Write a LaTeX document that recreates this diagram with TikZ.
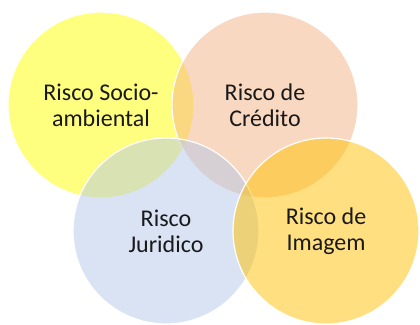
\documentclass[tikz,border=0pt]{standalone}
\usepackage{fontspec}
\setmainfont{Carlito}
\usepackage{tikz}
\usetikzlibrary{positioning}

\definecolor{socio}{HTML}{FFFF00}
\definecolor{credito}{HTML}{F4B183}
\definecolor{juridico}{HTML}{B4C7E7}
\definecolor{imagem}{HTML}{FFC000}

\tikzset{
	risco/.style={circle, draw=white, line width=1.2pt, fill opacity=0.5, draw opacity=1, text opacity=1,
		minimum size=186pt, inner sep=0pt, align=center, text=black!90,
		font=\fontsize{24}{26}\selectfont}
}

\begin{document}
\begin{tikzpicture}[x=1pt, y=-1pt]
		\useasboundingbox (0,0) rectangle (420,324);
		
		\node[risco, fill=socio] (soc) at (101,105) {Risco Socio-\\ambiental};
		\node[risco, fill=credito] (cred) at (265,105) {Risco de\\Crédito};
		\node[risco, fill=juridico] (jur) at (166,231) {Risco\\Juridico};
		\node[risco, fill=imagem] (img) at (326,231) {Risco de\\Imagem};
	\end{tikzpicture}
\end{document}
